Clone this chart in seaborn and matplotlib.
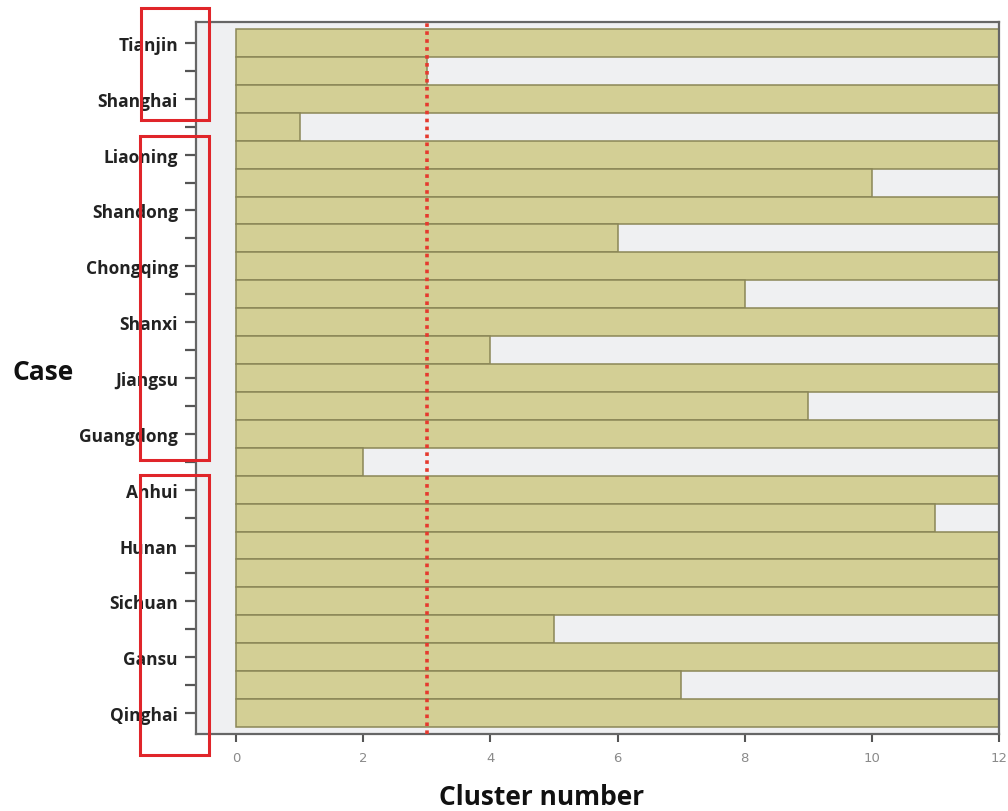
import matplotlib
matplotlib.use("Agg")
import matplotlib.pyplot as plt
import seaborn as sns
import pandas as pd
from matplotlib.patches import Rectangle

# ---- data ----
cases = ["Tianjin", "Shanghai", "Liaoning", "Shandong", "Chongqing", "Shanxi",
         "Jiangsu", "Guangdong", "Anhui", "Hunan", "Sichuan", "Gansu", "Qinghai"]
join_levels = [3, 1, 10, 6, 8, 4, 9, 2, 11, 12, 5, 7]   # bars between consecutive cases
max_clusters = 12
x_ticks = [0, 2, 4, 6, 8, 10, 12]
cut_level = 3

# build icicle rows: case row, join row, case row, ...
row_ids, row_vals, row_labels = [], [], []
for i, c in enumerate(cases):
    row_ids.append(f"c{i}")
    row_vals.append(max_clusters)
    row_labels.append(c)
    if i < len(join_levels):
        row_ids.append(f"j{i}")
        row_vals.append(join_levels[i])
        row_labels.append("")
df = pd.DataFrame({"row": row_ids, "value": row_vals})

sns.set_theme(style="white")
plt.rcParams["font.family"] = ["Open Sans", "DejaVu Sans"]

fig = plt.figure(figsize=(10.08, 8.12), dpi=100)
ax = fig.add_axes([196 / 1008, 1 - 735 / 812, (999 - 196) / 1008, (735 - 23) / 812])
ax.set_facecolor("#eff0f2")

sns.barplot(data=df, x="value", y="row", orient="h", color="#d3cf95",
            saturation=1, width=1.0, edgecolor="#8b8757", linewidth=1.1, ax=ax)

ax.set_xlim(-0.63, 12)
ax.set_ylim(len(row_ids) - 0.5 + 0.25, -0.75)
ax.axvline(cut_level, color="#e53a2f", linestyle=(0, (1, 1.2)), linewidth=2.6, zorder=5)

ax.set_yticks(range(len(row_ids)))
ax.set_yticklabels(row_labels, fontsize=12.5, fontweight="bold", color="#222222")
ax.set_xticks(x_ticks)
ax.set_xticklabels([str(t) for t in x_ticks], fontsize=9.5, color="#8a8a8a",
                   family="DejaVu Sans")
ax.tick_params(axis="y", which="both", left=True, length=8, width=1.6,
               color="#555555", pad=5, direction="out")
ax.tick_params(axis="x", bottom=True, length=6, width=1.5, color="#555555",
               pad=6, direction="out")
for s in ax.spines.values():
    s.set_color("#666666")
    s.set_linewidth(1.6)
ax.set_xlabel("")
ax.set_ylabel("")

fig.text(13 / 1008, 1 - 373 / 812, "Case", fontsize=19, fontweight="bold",
         color="#111111", va="center", ha="left")
fig.text(542 / 1008, 1 - 798 / 812, "Cluster number", fontsize=19, fontweight="bold",
         color="#111111", va="center", ha="center")

# red annotation boxes
for (x0, y0, x1, y1) in [(141, 9, 209, 121), (140, 137, 209, 461), (140, 476, 209, 756)]:
    fig.patches.append(Rectangle((x0 / 1008, 1 - y1 / 812), (x1 - x0) / 1008, (y1 - y0) / 812,
                                 transform=fig.transFigure, fill=False,
                                 edgecolor="#e0252a", linewidth=2.2, zorder=10))

fig.savefig("out.png", dpi=100, facecolor="white")
